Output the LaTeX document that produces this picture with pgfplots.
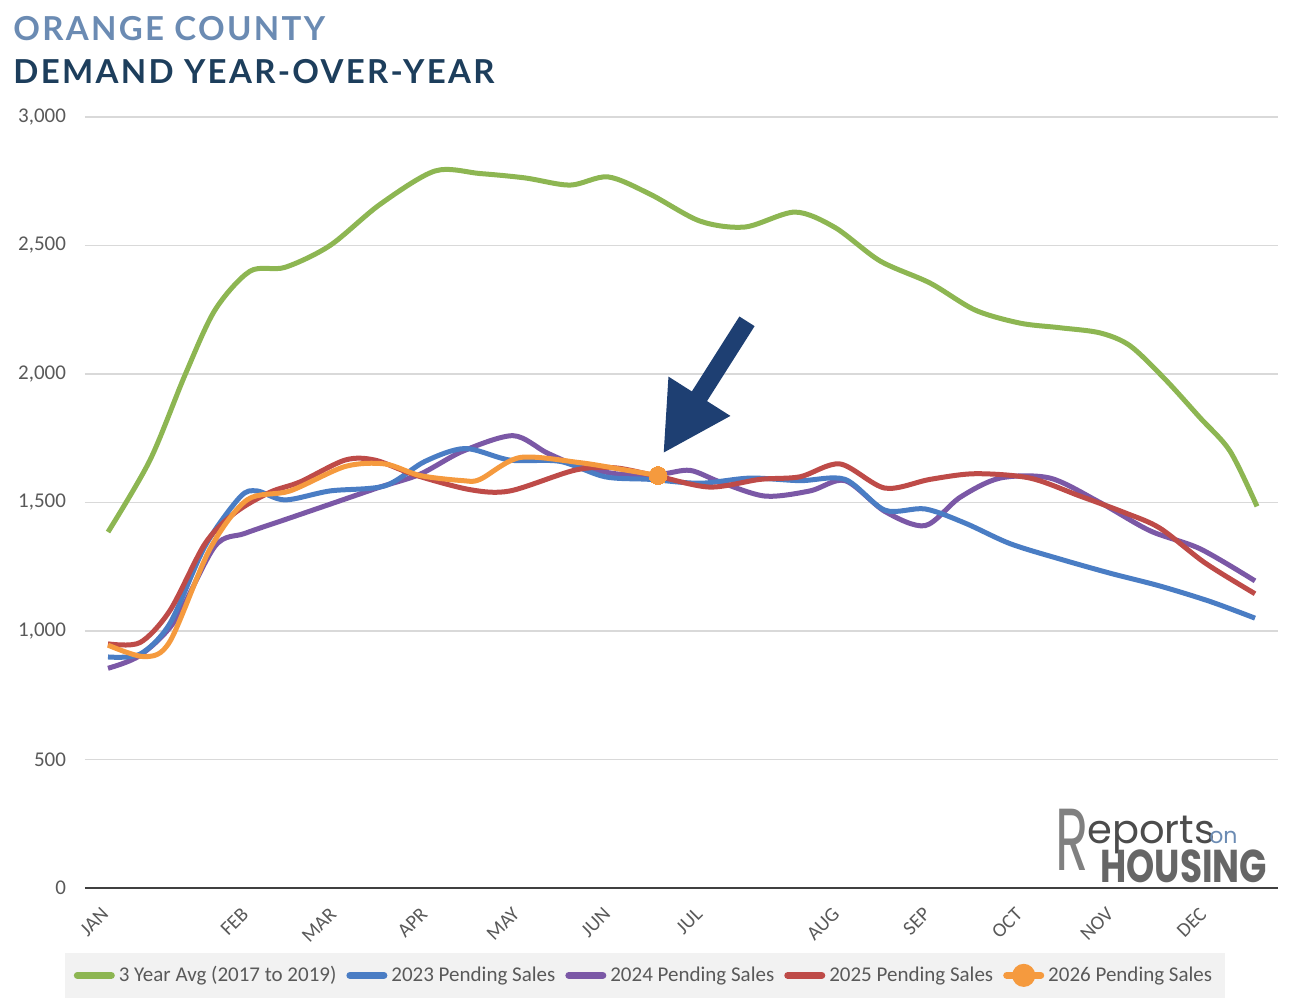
\documentclass[border=0pt]{standalone}
\usepackage{fontspec}
\usepackage{pgfplots}
\pgfplotsset{compat=1.18}
\usetikzlibrary{arrows.meta}
\setmainfont{Carlito}
\newfontfamily\titlefont[LetterSpace=7]{Lato}
\newfontfamily\logofont{Poppins}
\definecolor{cgreen}{HTML}{8DB652}
\definecolor{cblue}{HTML}{4A7DC4}
\definecolor{cpurple}{HTML}{7B58A6}
\definecolor{cred}{HTML}{BE4B48}
\definecolor{corange}{HTML}{F59A3E}
\definecolor{titleblue}{HTML}{6B8BB3}
\definecolor{titledark}{HTML}{1D3E5C}
\definecolor{arrowblue}{HTML}{1E3F72}
\definecolor{labelgray}{HTML}{595959}

\pgfplotstableread{
x y
108 1385
150 1665
185 1996
215 2249
250 2400
285 2415
330 2500
380 2660
435 2790
480 2780
525 2763
570 2735
608 2767
650 2700
700 2595
745 2572
795 2630
835 2570
880 2440
930 2354
975 2249
1020 2198
1060 2180
1100 2160
1130 2110
1165 1980
1200 1830
1230 1700
1257 1485
}\avg
\pgfplotstableread{
x y
108 899
140 910
170 1030
205 1330
240 1521
257 1545
285 1510
330 1545
385 1565
425 1660
465 1710
510 1665
560 1660
605 1600
650 1590
700 1575
750 1595
800 1585
845 1590
885 1470
925 1475
965 1420
1010 1340
1060 1280
1110 1225
1160 1175
1210 1115
1255 1050
}\ytwothree
\pgfplotstableread{
x y
108 855
140 905
175 1040
215 1330
245 1380
290 1440
335 1500
380 1560
420 1610
463 1700
513 1760
547 1693
580 1640
620 1610
660 1610
690 1625
720 1580
765 1525
810 1545
845 1585
885 1465
925 1410
960 1520
1000 1595
1050 1595
1100 1500
1150 1390
1200 1320
1255 1195
}\ytwofour
\pgfplotstableread{
x y
108 950
140 955
170 1080
205 1340
235 1460
270 1540
300 1580
345 1665
375 1665
415 1607
470 1550
510 1545
575 1626
615 1635
660 1600
710 1560
760 1590
800 1600
840 1650
885 1556
930 1590
975 1612
1030 1595
1080 1525
1125 1460
1160 1400
1205 1265
1255 1145
}\ytwofive
\pgfplotstableread{
x y
108 945
145 900
170 960
210 1320
247 1510
290 1545
345 1640
385 1650
420 1605
463 1585
480 1590
520 1675
580 1655
620 1630
658 1605
}\ytwosix

\begin{document}
\begin{tikzpicture}
\useasboundingbox (-42.5pt,-57pt) rectangle (615.5pt,444pt);
\begin{axis}[
  at={(0pt,0pt)}, anchor=south west,
  scale only axis, width=596.5pt, height=385.5pt,
  xmin=85, xmax=1278, ymin=0, ymax=3000,
  clip=false,
  axis line style={draw=none},
  major tick length=0pt,
  ytick={500,1000,1500,2000,2500,3000},
  extra y ticks={0},
  extra y tick style={grid style={color=black!75, line width=1.3pt}},
  ymajorgrids,
  grid style={color=black!15, line width=0.6pt},
  /pgf/number format/assume math mode=true,
  /pgf/number format/1000 sep={,},
  yticklabel style={font=\fontsize{10.5}{12}\selectfont, color=labelgray, xshift=-6pt},
  xtick={110,250,338,429,521,612,704,841,932,1024,1115,1208},
  xticklabels={JAN,FEB,MAR,APR,MAY,JUN,JUL,AUG,SEP,OCT,NOV,DEC},
  xticklabel style={font=\fontsize{10}{12}\selectfont, color=labelgray, rotate=45, anchor=east},
  xticklabel shift=9pt,
  legend columns=5,
  legend style={at={(axis cs:645,-340)}, anchor=center, fill=black!5, draw=none,
    font=\fontsize{10.5}{12}\selectfont\color{labelgray}, inner sep=4.5pt,
    /tikz/every even column/.append style={column sep=3pt}},
  every axis plot/.append style={line width=2.5pt, smooth, tension=0.5},
]
\addplot[cgreen, legend image code/.code={\draw[cgreen,line width=3.5pt,line cap=round](0pt,0pt)--(17pt,0pt);}] table[x=x,y=y]{\avg};
\addlegendentry{3 Year Avg (2017 to 2019)}
\addplot[cpurple, forget plot] table[x=x,y=y]{\ytwofour};
\addplot[cblue, legend image code/.code={\draw[cblue,line width=3.5pt,line cap=round](0pt,0pt)--(17pt,0pt);}] table[x=x,y=y]{\ytwothree};
\addlegendentry{2023 Pending Sales}
\addlegendimage{legend image code/.code={\draw[cpurple,line width=3.5pt,line cap=round](0pt,0pt)--(17pt,0pt);}}
\addlegendentry{2024 Pending Sales}
\addplot[cred, legend image code/.code={\draw[cred,line width=3.5pt,line cap=round](0pt,0pt)--(17pt,0pt);}] table[x=x,y=y]{\ytwofive};
\addlegendentry{2025 Pending Sales}
\addplot[corange, mark=*, mark indices={15}, mark size=4.5pt, mark options={fill=corange, draw=corange, line width=0pt},
  legend image code/.code={\draw[corange,line width=3.5pt,line cap=round](0pt,0pt)--(17pt,0pt);\fill[corange](8.5pt,0pt) circle (4.5pt);}] table[x=x,y=y]{\ytwosix};
\addlegendentry{2026 Pending Sales}
\draw[arrowblue, line width=9pt, -{Triangle[length=34pt,width=34pt]}] (axis cs:747,2205) -- (axis cs:663,1690);
\end{axis}
% titles
\node[anchor=base west, inner sep=0pt, text=titleblue, font=\titlefont\bfseries\fontsize{16.5}{18}\selectfont] at (-36pt,423.5pt) {ORANGE COUNTY};
\node[anchor=base west, inner sep=0pt, text=titledark, font=\titlefont\bfseries\fontsize{16.5}{18}\selectfont] at (-36pt,402pt) {DEMAND YEAR-OVER-YEAR};
% logo
\node[anchor=base west, inner sep=0pt, text=black!50, font=\logofont\fontsize{44}{48}\selectfont] at (485pt,9pt) {\scalebox{0.62}[1]{R}};
\node[anchor=base west, inner sep=0pt, text=black!70, font=\logofont\fontsize{20}{24}\selectfont] at (501pt,22.5pt) {eports};
\node[anchor=base west, inner sep=0pt, text=titleblue, font=\logofont\fontsize{11}{13}\selectfont] at (562pt,22.5pt) {on};
\node[anchor=base west, inner sep=0pt, text=black!60, font=\logofont\bfseries\fontsize{23}{26}\selectfont] at (507.5pt,3pt) {\scalebox{0.78}[1]{HOUSING}};
\end{tikzpicture}
\end{document}
